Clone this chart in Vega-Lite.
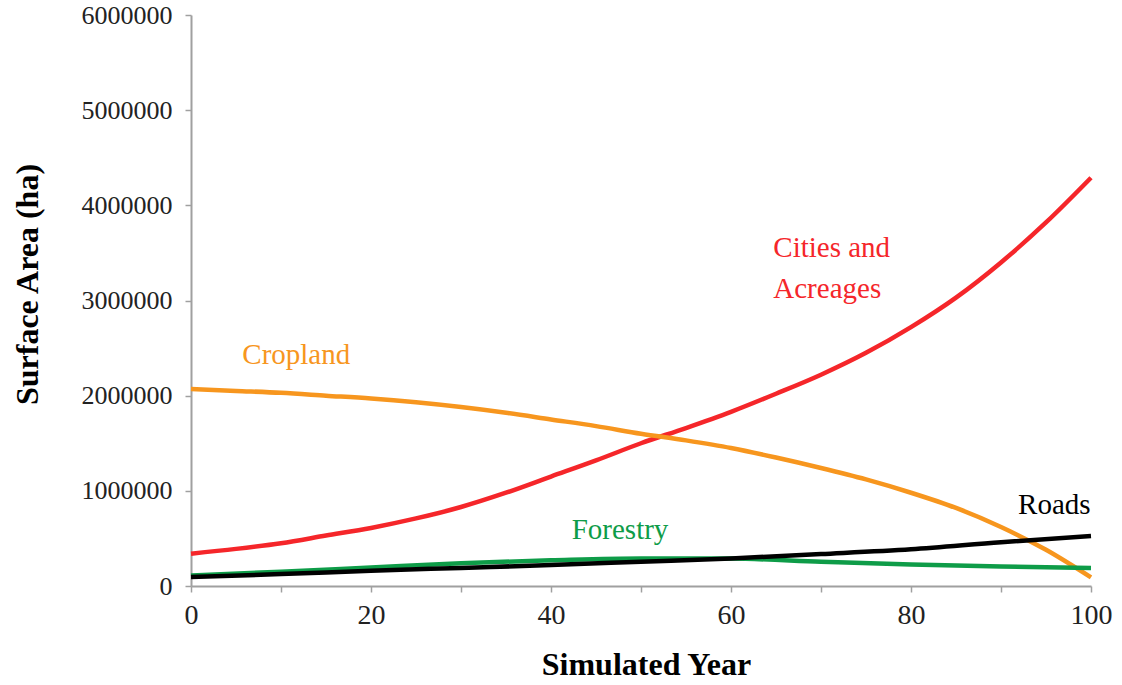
{
  "$schema": "https://vega.github.io/schema/vega-lite/v6.json",
  "width": 900,
  "height": 571,
  "autosize": {"type": "none"},
  "padding": {"left": 191, "top": 15, "right": 31, "bottom": 99},
  "background": "white",
  "config": {
    "view": {"stroke": null},
    "font": "Liberation Serif",
    "axis": {
      "grid": false,
      "domainColor": "#a0a0a0",
      "domainWidth": 2,
      "tickColor": "#a0a0a0",
      "tickWidth": 1.5,
      "tickSize": 6,
      "labelFlush": false,
      "labelFont": "Liberation Serif",
      "labelColor": "#222222",
      "titleFont": "Liberation Serif",
      "titleFontSize": 32,
      "titleFontWeight": "bold",
      "titleColor": "#000000"
    }
  },
  "datasets": {
    "series": [
      {"year": 0, "series": "Cities and Acreages", "area": 340000},
      {"year": 5, "series": "Cities and Acreages", "area": 390000},
      {"year": 10, "series": "Cities and Acreages", "area": 450000},
      {"year": 15, "series": "Cities and Acreages", "area": 530000},
      {"year": 20, "series": "Cities and Acreages", "area": 610000},
      {"year": 25, "series": "Cities and Acreages", "area": 710000},
      {"year": 30, "series": "Cities and Acreages", "area": 830000},
      {"year": 35, "series": "Cities and Acreages", "area": 980000},
      {"year": 40, "series": "Cities and Acreages", "area": 1150000},
      {"year": 45, "series": "Cities and Acreages", "area": 1320000},
      {"year": 50, "series": "Cities and Acreages", "area": 1500000},
      {"year": 55, "series": "Cities and Acreages", "area": 1660000},
      {"year": 60, "series": "Cities and Acreages", "area": 1830000},
      {"year": 65, "series": "Cities and Acreages", "area": 2020000},
      {"year": 70, "series": "Cities and Acreages", "area": 2220000},
      {"year": 75, "series": "Cities and Acreages", "area": 2450000},
      {"year": 80, "series": "Cities and Acreages", "area": 2720000},
      {"year": 85, "series": "Cities and Acreages", "area": 3030000},
      {"year": 90, "series": "Cities and Acreages", "area": 3400000},
      {"year": 95, "series": "Cities and Acreages", "area": 3820000},
      {"year": 100, "series": "Cities and Acreages", "area": 4290000},
      {"year": 0, "series": "Cropland", "area": 2070000},
      {"year": 5, "series": "Cropland", "area": 2050000},
      {"year": 10, "series": "Cropland", "area": 2030000},
      {"year": 15, "series": "Cropland", "area": 2000000},
      {"year": 20, "series": "Cropland", "area": 1970000},
      {"year": 25, "series": "Cropland", "area": 1930000},
      {"year": 30, "series": "Cropland", "area": 1880000},
      {"year": 35, "series": "Cropland", "area": 1820000},
      {"year": 40, "series": "Cropland", "area": 1750000},
      {"year": 45, "series": "Cropland", "area": 1680000},
      {"year": 50, "series": "Cropland", "area": 1600000},
      {"year": 55, "series": "Cropland", "area": 1530000},
      {"year": 60, "series": "Cropland", "area": 1450000},
      {"year": 65, "series": "Cropland", "area": 1350000},
      {"year": 70, "series": "Cropland", "area": 1240000},
      {"year": 75, "series": "Cropland", "area": 1120000},
      {"year": 80, "series": "Cropland", "area": 980000},
      {"year": 85, "series": "Cropland", "area": 820000},
      {"year": 90, "series": "Cropland", "area": 620000},
      {"year": 95, "series": "Cropland", "area": 380000},
      {"year": 100, "series": "Cropland", "area": 90000},
      {"year": 0, "series": "Forestry", "area": 110000},
      {"year": 10, "series": "Forestry", "area": 150000},
      {"year": 20, "series": "Forestry", "area": 195000},
      {"year": 30, "series": "Forestry", "area": 240000},
      {"year": 40, "series": "Forestry", "area": 270000},
      {"year": 50, "series": "Forestry", "area": 290000},
      {"year": 60, "series": "Forestry", "area": 288000},
      {"year": 70, "series": "Forestry", "area": 255000},
      {"year": 80, "series": "Forestry", "area": 225000},
      {"year": 90, "series": "Forestry", "area": 205000},
      {"year": 100, "series": "Forestry", "area": 190000},
      {"year": 0, "series": "Roads", "area": 95000},
      {"year": 10, "series": "Roads", "area": 125000},
      {"year": 20, "series": "Roads", "area": 160000},
      {"year": 30, "series": "Roads", "area": 190000},
      {"year": 40, "series": "Roads", "area": 220000},
      {"year": 50, "series": "Roads", "area": 255000},
      {"year": 60, "series": "Roads", "area": 290000},
      {"year": 70, "series": "Roads", "area": 335000},
      {"year": 80, "series": "Roads", "area": 385000},
      {"year": 90, "series": "Roads", "area": 460000},
      {"year": 100, "series": "Roads", "area": 525000}
    ],
    "labels": [
      {"year": 5.7, "area": 2430000, "text": "Cropland", "series": "Cropland"},
      {"year": 64.7, "area": 3550000, "text": "Cities and", "series": "Cities and Acreages"},
      {"year": 64.7, "area": 3120000, "text": "Acreages", "series": "Cities and Acreages"},
      {"year": 42.3, "area": 590000, "text": "Forestry", "series": "Forestry"},
      {"year": 91.9, "area": 850000, "text": "Roads", "series": "Roads"}
    ]
  },
  "layer": [
    {
      "data": {"name": "series"},
      "mark": {"type": "line", "strokeWidth": 4.5, "interpolate": "monotone"},
      "encoding": {
        "x": {
          "field": "year", "type": "quantitative",
          "scale": {"domain": [0, 100], "nice": false},
          "axis": {
            "title": "Simulated Year",
            "values": [0, 10, 20, 30, 40, 50, 60, 70, 80, 90, 100],
            "labelExpr": "datum.value % 20 == 0 ? datum.label : ''",
            "labelFontSize": 28,
            "labelPadding": 9,
            "titlePadding": 20,
            "titleX": 455
          }
        },
        "y": {
          "field": "area", "type": "quantitative",
          "scale": {"domain": [0, 6000000], "nice": false},
          "axis": {
            "title": "Surface Area (ha)",
            "values": [0, 1000000, 2000000, 3000000, 4000000, 5000000, 6000000],
            "format": "d",
            "labelFontSize": 26,
            "labelPadding": 13,
            "titlePadding": 37,
            "titleY": 269
          }
        },
        "color": {
          "field": "series", "type": "nominal",
          "scale": {
            "domain": ["Cities and Acreages", "Cropland", "Forestry", "Roads"],
            "range": ["#f5262a", "#f7961e", "#0e9c48", "#000000"]
          },
          "legend": null
        },
        "order": {"field": "year"}
      }
    },
    {
      "data": {"name": "labels"},
      "mark": {"type": "text", "align": "left", "baseline": "middle", "fontSize": 29, "font": "Liberation Serif"},
      "encoding": {
        "x": {"field": "year", "type": "quantitative"},
        "y": {"field": "area", "type": "quantitative"},
        "text": {"field": "text"},
        "color": {"field": "series", "type": "nominal", "legend": null}
      }
    }
  ]
}
